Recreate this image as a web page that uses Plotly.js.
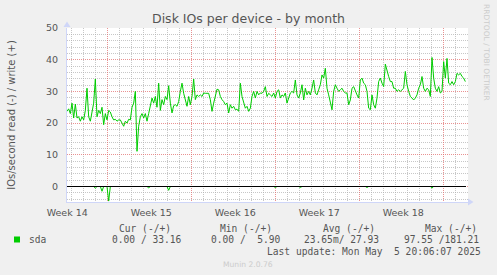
<!DOCTYPE html>
<html><head><meta charset="utf-8">
<script src="https://cdn.plot.ly/plotly-3.0.1.min.js"></script>
<style>html,body{margin:0;padding:0;background:#f0f0f0;}#chart{width:497px;height:275px;}</style>
</head><body><div id="chart"></div>
<script>
// ---- data ----
const sampleStart = Date.UTC(2025, 3, 2, 16, 0, 0);   // 2025-04-02 16:00
const sampleStepMinutes = 200;
const writeIOs = [
  23.7,24.5,23,26.3,21.6,26,21.6,22,20.6,22,21,24,31,22,20.6,23,26.3,33.9,22,24,
  23,25,19.5,23,21,24,23.5,22,21,21.2,20.6,21,21,20,19,20.6,20,21.2,21,25,
  26.3,30,11.1,19,22,23,21.6,23,20.6,23,25,27.9,26.3,28.4,25,32.6,24,27.4,25.8,
  28.4,27.4,31.8,26.3,23.2,25.5,25.8,25.3,26.8,30,32.6,29.4,26.8,25.3,28.4,25.8,28.4,33.9,27.4,28.9,
  28.4,28.9,28.4,29.5,29.4,29.5,29.4,27.4,23.7,26.3,28.4,30.7,30.5,28.4,27.4,26.8,25.8,26.3,23.2,25.8,
  24.7,25.3,24.2,24.4,23.7,32.6,28.4,26.3,24.7,25.3,23.7,24.7,28.4,30,27.9,30,28.9,29.5,29.4,30,
  31.5,28.4,29.4,28.9,
  28.4,29.5,27.9,30,30.5,27.9,28.9,28.4,29.5,26.3,27.9,29.5,30,29.5,33.6,28.9,27.9,29.5,32.1,27.3,
  31,28.9,30,28.9,31,33.6,29.5,28.9,30.5,32.1,35.2,34.2,37.3,31,28.9,26.3,24.2,30,32.1,31,
  30,30.5,31,30,29.5,29.5,25.8,27.3,31,31.5,30,28.9,27.9,33.6,34.2,32.6,32.1,30,24.7,24.2,
  28.9,25.8,24.7,27.9,
  33.1,34.2,32.6,31.5,38.6,36.3,34.7,33.1,33.1,31,31,30,30.5,30,30.5,31,36.3,32.1,30,28.4,
  27.9,27.3,27.9,28.9,31,32.1,34.7,31,30,31,30.5,28.4,40.7,34.2,31,30,31.5,29.5,30,39.4,
  34.2,40.4,32.6,32.1,33.1,32.1,33.1,35.7,35.2,35.7,34.7,34.2,33.1
];
const readIOs = [
  0,0,0,0,0,0,0,0,0,0,0,0,0,0,0,0,0,0.5,0,0,
  0,1.5,0,0,0,4.6,0,0,0,0,0,0,0,0,0,0,0,0,0,0,
  0,0,0,0,0,0,0,0,0,0.4,0,0,0,0,0,0,0,0,0,0,
  0,1.2,0,0,0,0,0,0,0,0,0,0,0,0,0,0,0,0,0,0,
  0,0,0,0,0,0,0,0,0,0,0,0,0,0,0,0,0,0,0,0,
  0,0,0,0,0,0,0,0,0,0,0,0,0,0,0,0,0,0,0,0,
  0,0,0,0,0,0.3,0,0,0,0,0,0,0,0,0,0,0,0,0,0,
  0.3,0,0,0,0,0,0,0,0,0,0,0,0,0,0,0,0,0,0,0,
  0,0,0,0,0,0,0,0,0,0,0,0,0,0,0,0,0,0,0,0,
  0.3,0,0,0,0,0,0,0,0,0,0,0,0,0,0,0,0,0,0,0,
  0,0,0,0,0,0,0,0,0,0,0,0,0,0,0,0,0,0,0,0.5,
  0,0,0,0,0,0,0,0,0,0,0,0,0,0,0,0,0,0,0,0
];
const xRange = ['2025-04-02 16:00', '2025-05-06 02:00'];
const yRange = [-4.89, 50];
const weekLabels = ['Week 14', 'Week 15', 'Week 16', 'Week 17', 'Week 18'];
const weekLabelTimes = ['2025-04-02 16:30', '2025-04-09 16:30', '2025-04-16 16:30', '2025-04-23 16:30', '2025-04-30 16:30'];
const seriesName = 'sda';
const statHeaders = ['Cur (-/+)', 'Min (-/+)', 'Avg (-/+)', 'Max (-/+)'];
const statValues = ['0.00 / 33.16', '0.00 /  5.90', '23.65m/ 27.93', '97.55 /181.21'];
const lastUpdate = 'Last update: Mon May  5 20:06:07 2025';
const chartTitle = 'Disk IOs per device - by month';
const yTitle = 'IOs/second read (-) / write (+)';

// ---- helpers ----
function fmt(ms) { return new Date(ms).toISOString().slice(0, 19).replace('T', ' '); }
const times = writeIOs.map((_, i) => fmt(sampleStart + i * sampleStepMinutes * 60000));
const nb = s => s.replace(/ /g, '\u00a0');
// layout positions given in page pixels -> paper coords
const PL = 67, PR = 468, PT = 28, PB = 202;
const px = x => (x - PL) / (PR - PL);
const py = y => (PB - y) / (PB - PT);

const GREEN = '#00cc00';
const TXT = '#555555';
const mono = {family: 'DejaVu Sans Mono', size: 9.6, color: TXT};

const traces = [
  {x: times, y: readIOs.map(v => -v), type: 'scatter', mode: 'lines', xaxis: 'x2',
   line: {color: GREEN, width: 1}, hoverinfo: 'skip', showlegend: false},
  {x: times, y: writeIOs, type: 'scatter', mode: 'lines', name: seriesName,
   line: {color: GREEN, width: 1}, hoverinfo: 'skip', showlegend: false}
];

const annotations = [];
const headerX = [116.7, 218.3, 320.7, 422.7];
const valueX = [110, 209, 302.3, 401.7];
statHeaders.forEach((h, i) => annotations.push({xref: 'paper', yref: 'paper', x: px(headerX[i]), y: py(228),
  xanchor: 'left', yanchor: 'middle', text: nb(h), showarrow: false, font: mono}));
statValues.forEach((v, i) => annotations.push({xref: 'paper', yref: 'paper', x: px(valueX[i]), y: py(239.5),
  xanchor: 'left', yanchor: 'middle', text: nb(v), showarrow: false, font: mono}));
annotations.push({xref: 'paper', yref: 'paper', x: px(26.5), y: py(239.5), xanchor: 'left', yanchor: 'middle',
  text: seriesName, showarrow: false, font: mono});
annotations.push({xref: 'paper', yref: 'paper', x: px(482.5), y: py(251), xanchor: 'right', yanchor: 'middle',
  text: nb(lastUpdate), showarrow: false, font: mono});
annotations.push({xref: 'paper', yref: 'paper', x: px(248), y: py(264.5), xanchor: 'center', yanchor: 'middle',
  text: 'Munin 2.0.76', showarrow: false, font: {family: 'DejaVu Sans', size: 7.6, color: '#cccccc'}});
annotations.push({xref: 'paper', yref: 'paper', x: px(487), y: py(52), xanchor: 'center', yanchor: 'middle',
  text: 'RRDTOOL / TOBI OETIKER', textangle: 90, showarrow: false,
  font: {family: 'DejaVu Sans', size: 7.5, color: '#cccccc'}});

const shapes = [
  // legend swatch
  {type: 'rect', xref: 'paper', yref: 'paper', x0: px(14), x1: px(20), y0: py(242.5), y1: py(236.5),
   fillcolor: GREEN, line: {width: 0}},
  // zero rule
  {type: 'line', xref: 'paper', yref: 'y', x0: 0, x1: px(466), y0: 0, y1: 0, layer: 'above',
   line: {color: '#000000', width: 1}},
  // axis arrows
  {type: 'path', xref: 'paper', yref: 'paper', xsizemode: 'pixel', ysizemode: 'pixel', xanchor: 0, yanchor: 1,
   path: 'M -3.5 1 L 3.5 1 L 0 6.5 Z', fillcolor: '#cfd6f8', line: {width: 0}, layer: 'above'},
  {type: 'path', xref: 'paper', yref: 'paper', xsizemode: 'pixel', ysizemode: 'pixel', xanchor: 1, yanchor: 0,
   path: 'M 0 -3.5 L 0 3.5 L 5.5 0 Z', fillcolor: '#cfd6f8', line: {width: 0}, layer: 'above'}
];

const gridMajor = 'rgba(225,110,110,0.75)';
const gridMinor = 'rgba(175,175,175,0.7)';
const tickFont = {family: 'DejaVu Sans', size: 9.5, color: TXT};

const layout = {
  width: 497, height: 275,
  margin: {l: PL, r: 497 - PR, t: PT, b: 275 - PB, pad: 0},
  paper_bgcolor: '#f0f0f0', plot_bgcolor: '#ffffff',
  showlegend: false,
  title: {text: chartTitle, font: {family: 'DejaVu Sans', size: 12.5, color: TXT},
          xref: 'container', x: 0.5, xanchor: 'center', yref: 'container', y: 1 - 18.5 / 275, yanchor: 'middle'},
  xaxis: {type: 'date', range: xRange, tick0: '2025-04-06', dtick: 7 * 86400000,
          showticklabels: false, ticks: '', showgrid: true, gridcolor: gridMajor, griddash: '1px,1px', gridwidth: 1,
          minor: {tick0: '2025-04-03', dtick: 86400000, showgrid: true, gridcolor: gridMinor, griddash: '1px,1px', gridwidth: 1},
          showline: true, linecolor: '#cfd6f8', linewidth: 1, zeroline: false, fixedrange: true},
  xaxis2: {type: 'date', overlaying: 'x', side: 'bottom', anchor: 'y', range: xRange,
           tickmode: 'array', tickvals: weekLabelTimes, ticktext: weekLabels, showgrid: false,
           showline: false, zeroline: false, ticks: '', tickfont: tickFont, ticklabelstandoff: 3, fixedrange: true},
  yaxis: {range: yRange, tick0: 0, dtick: 10, showgrid: true, gridcolor: gridMajor, griddash: '1px,1px', gridwidth: 1,
          minor: {tick0: 0, dtick: 2, showgrid: true, gridcolor: gridMinor, griddash: '1px,1px', gridwidth: 1},
          zeroline: false, showline: true, linecolor: '#cfd6f8', linewidth: 1, ticks: '',
          tickfont: tickFont, ticklabelstandoff: 6,
          title: {text: yTitle, font: {family: 'DejaVu Sans', size: 10, color: TXT}, standoff: 28},
          fixedrange: true},
  shapes: shapes,
  annotations: annotations
};

Plotly.newPlot('chart', traces, layout, {staticPlot: true, displayModeBar: false});
</script>
</body></html>
